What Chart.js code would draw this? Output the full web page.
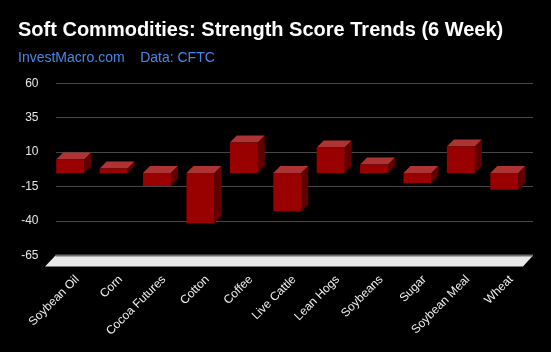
<!DOCTYPE html>
<html>
<head>
<meta charset="utf-8">
<script src="https://cdn.jsdelivr.net/npm/chart.js@4/dist/chart.umd.min.js"></script>
<style>
  html, body { margin: 0; padding: 0; background: #000; }
  #wrap { width: 551px; height: 352px; position: relative; }
</style>
</head>
<body>
<div id="wrap"><canvas id="c" width="551" height="352"></canvas></div>
<script>
const categories = ["Soybean Oil", "Corn", "Cocoa Futures", "Cotton", "Coffee", "Live Cattle", "Lean Hogs", "Soybeans", "Sugar", "Soybean Meal", "Wheat"];
const scores = [9.7, 3.2, -9.5, -36.5, 22.1, -27.8, 18.5, 6.1, -7.3, 19.2, -12.2];
const yTicks = [60, 35, 10, -15, -40, -65];
const titleText = "Soft Commodities: Strength Score Trends (6 Week)";
const subtitleText = "InvestMacro.com    Data: CFTC";

const FONT = "'Liberation Sans', Arial, sans-serif";
const DX = 7, DY = 7;

const bar3d = {
  id: 'bar3d',
  beforeDatasetsDraw(chart) {
    const ctx = chart.ctx;
    const ca = chart.chartArea;
    const fy = ca.bottom, depth = 11;
    ctx.save();
    ctx.beginPath();
    ctx.moveTo(ca.left, fy);
    ctx.lineTo(ca.right, fy);
    ctx.lineTo(ca.right - 10, fy + depth);
    ctx.lineTo(ca.left - 10.5, fy + depth);
    ctx.closePath();
    ctx.fillStyle = '#e9e9e9';
    ctx.fill();
    ctx.beginPath();
    ctx.moveTo(ca.left, fy);
    ctx.lineTo(ca.right, fy);
    ctx.strokeStyle = '#6e6e6e';
    ctx.lineWidth = 2;
    ctx.stroke();
    ctx.restore();
  },
  beforeDatasetDraw(chart, args) {
    const ctx = chart.ctx;
    const meta = args.meta;
    ctx.save();
    meta.data.forEach(el => {
      const p = el.getProps(['x', 'y', 'base', 'width'], true);
      const x1 = p.x - p.width / 2 - DX, x2 = p.x + p.width / 2 - DX;
      const top = Math.min(p.y, p.base) + DY, bot = Math.max(p.y, p.base) + DY;
      ctx.beginPath();
      ctx.moveTo(x1, top);
      ctx.lineTo(x2, top);
      ctx.lineTo(x2 + DX, top - DY);
      ctx.lineTo(x1 + DX, top - DY);
      ctx.closePath();
      ctx.fillStyle = '#ae3333';
      ctx.fill();
      ctx.beginPath();
      ctx.moveTo(x2, top);
      ctx.lineTo(x2 + DX, top - DY);
      ctx.lineTo(x2 + DX, bot - DY);
      ctx.lineTo(x2, bot);
      ctx.closePath();
      ctx.fillStyle = '#600000';
      ctx.fill();
    });
    ctx.restore();
    ctx.save();
    ctx.translate(-DX, DY);
  },
  afterDatasetDraw(chart) {
    chart.ctx.restore();
  }
};

new Chart(document.getElementById('c'), {
  type: 'bar',
  data: {
    labels: categories,
    datasets: [{
      data: scores,
      backgroundColor: '#990000',
      borderWidth: 0,
      categoryPercentage: 1.0,
      barPercentage: 0.645
    }]
  },
  plugins: [bar3d],
  options: {
    responsive: false,
    animation: false,
    events: [],
    layout: { padding: { left: 18, right: 18, top: 8, bottom: 0 } },
    plugins: {
      legend: { display: false },
      tooltip: { enabled: false },
      title: {
        display: true,
        text: titleText,
        align: 'start',
        color: '#ffffff',
        font: { family: FONT, size: 20, weight: 'bold', lineHeight: 1.2 },
        padding: { top: 10.5, bottom: 4 }
      },
      subtitle: {
        display: true,
        text: subtitleText,
        align: 'start',
        color: '#4a86e8',
        font: { family: FONT, size: 14, weight: 'normal', lineHeight: 1.2 },
        padding: { top: 3, bottom: 17 }
      }
    },
    scales: {
      x: {
        grid: { display: false },
        border: { display: false },
        ticks: {
          color: '#f0f0f0',
          font: { family: FONT, size: 12 },
          autoSkip: false,
          maxRotation: 45,
          minRotation: 45,
          padding: 9
        },
        afterFit(scale) { scale.height = 96.5; }
      },
      y: {
        min: -65,
        max: 60,
        afterBuildTicks(scale) { scale.ticks = yTicks.map(v => ({ value: v })); },
        grid: { color: '#464646', lineWidth: 1, drawTicks: false },
        border: { display: false },
        ticks: {
          color: '#e6e6e6',
          font: { family: FONT, size: 12 },
          padding: 17
        },
        afterFit(scale) { scale.width = 37.5; }
      }
    }
  }
});
</script>
</body>
</html>
